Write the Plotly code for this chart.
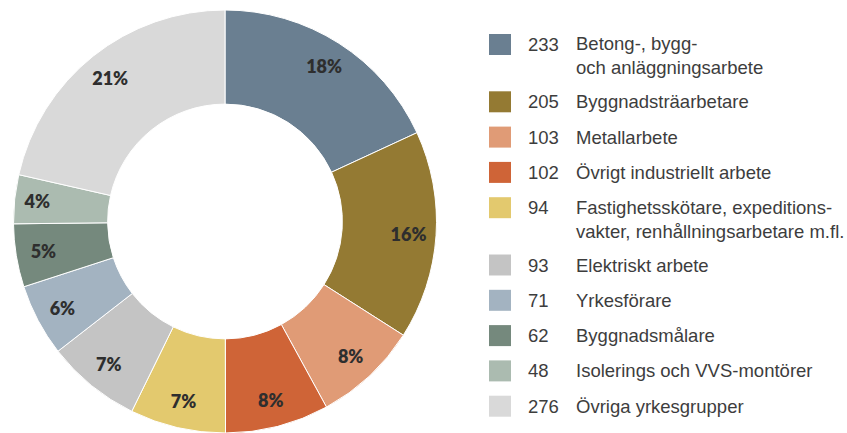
import plotly.graph_objects as go

# ---- data ----
labels = [
    "Betong-, bygg-<br>och anläggningsarbete",
    "Byggnadsträarbetare",
    "Metallarbete",
    "Övrigt industriellt arbete",
    "Fastighetsskötare, expeditions-<br>vakter, renhållningsarbetare m.fl.",
    "Elektriskt arbete",
    "Yrkesförare",
    "Byggnadsmålare",
    "Isolerings och VVS-montörer",
    "Övriga yrkesgrupper",
]
values = [233, 205, 103, 102, 94, 93, 71, 62, 48, 276]
colors = ["#6a7f91", "#947a33", "#e09b76", "#cf6437", "#e3c96e",
          "#c4c4c4", "#a3b3c1", "#75897d", "#abbbb0", "#d9d9d9"]

W, H = 847, 433
dom_x = [0, 450 / W]
dom_y = [0, 1 - 10 / H]

fig = go.Figure()
fig.add_trace(go.Pie(
    values=values, labels=labels, marker=dict(colors=colors, line=dict(color="white", width=1)),
    hole=0.555, sort=False, direction="clockwise", rotation=0,
    textinfo="none", hoverinfo="label+value+percent", showlegend=False,
    domain=dict(x=dom_x, y=dom_y),
))
# transparent overlay ring carrying the percentage labels
fig.add_trace(go.Pie(
    values=values, labels=labels,
    marker=dict(colors=["rgba(0,0,0,0)"] * len(values), line=dict(width=0)),
    hole=0.74, sort=False, direction="clockwise", rotation=0,
    texttemplate="%{percent:.0%}", textposition="inside", insidetextorientation="horizontal",
    textfont=dict(family="Lato", size=18, color="#2e2e2e", weight=800),
    hoverinfo="skip", showlegend=False,
    domain=dict(x=dom_x, y=dom_y),
))

# ---- custom legend ----
sq_x0, sq_x1, sq_h = 489, 511, 21
num_x, lab_x = 526, 574
row_step, extra_line = 35.3, 22.0
y = 44.5
shapes, annotations = [], []
font = dict(family="Liberation Sans, Arial, sans-serif", size=18.5, color="#3d3d3d")
for lab, val, col in zip(labels, values, colors):
    nlines = lab.count("<br>") + 1
    shapes.append(dict(type="rect", xref="paper", yref="paper",
                       x0=sq_x0 / W, x1=sq_x1 / W,
                       y0=1 - (y + sq_h / 2) / H, y1=1 - (y - sq_h / 2) / H,
                       fillcolor=col, line=dict(width=0)))
    annotations.append(dict(xref="paper", yref="paper", x=num_x / W, y=1 - y / H,
                            xanchor="left", yanchor="middle", text=str(val),
                            showarrow=False, font=font))
    ymid = y + (nlines - 1) * 11.5
    annotations.append(dict(xref="paper", yref="paper", x=lab_x / W, y=1 - ymid / H,
                            xanchor="left", yanchor="middle", text=lab, align="left",
                            showarrow=False, font=font))
    y += row_step + (nlines - 1) * extra_line

fig.update_layout(
    width=W, height=H, margin=dict(l=0, r=0, t=0, b=0),
    paper_bgcolor="white", plot_bgcolor="white",
    shapes=shapes, annotations=annotations,
)
fig.write_html("out.html", config={"displayModeBar": False},
               post_script="document.body.style.margin='0';document.body.style.overflow='hidden';")
